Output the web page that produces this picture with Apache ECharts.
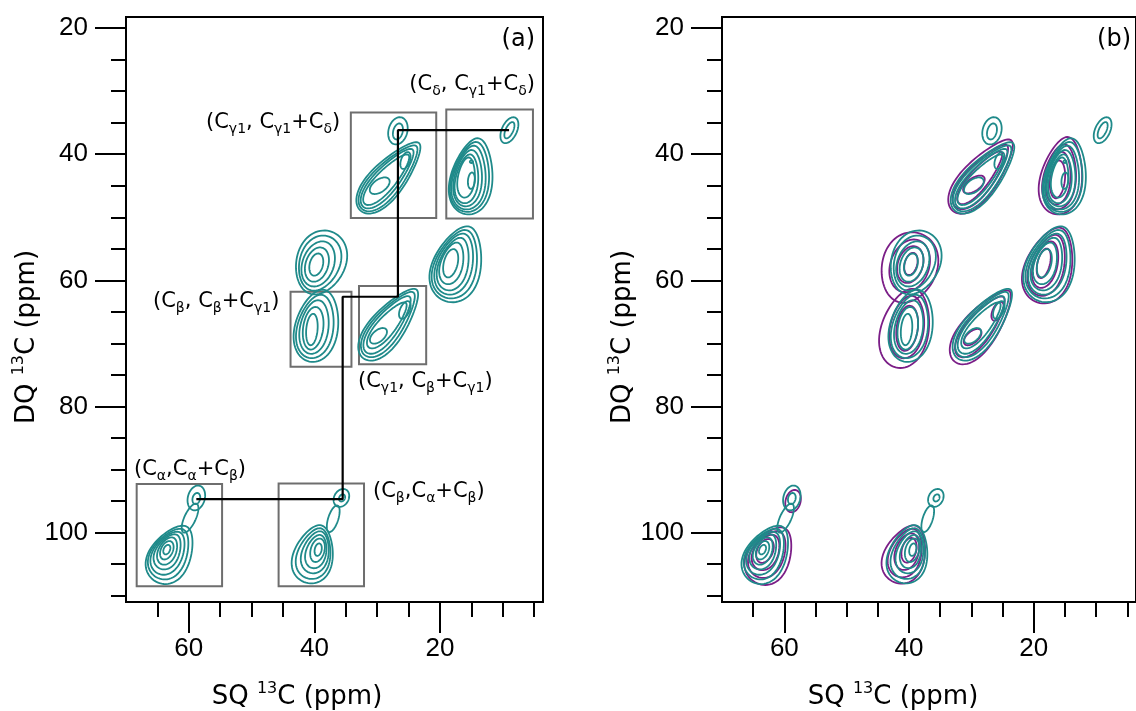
<!DOCTYPE html>
<html>
<head>
<meta charset="utf-8">
<script src="https://cdn.jsdelivr.net/npm/echarts@6/dist/echarts.min.js"></script>
<style>
  html, body { margin: 0; padding: 0; background: #fff; }
  #container { width: 1136px; height: 711px; }
</style>
</head>
<body>
<div id="container"></div>
<script>
// contour rings:
// [SQ ppm, DQ ppm, semi-axis a, semi-axis b, tilt (deg), egg (broader at the low end when < 0)]
var tealRings = [
    // (Cg1, Cg1+Cd)
    [26.7, 36.3, 2.2, 1.5, 75, 0], [26.7, 36.4, 1.3, 0.75, 75, 0],
    [28.0, 43.6, 7.1, 2.7, 49, -0.3], [28.1, 43.7, 6.6, 2.35, 49, -0.3], [28.3, 43.8, 6.0, 1.95, 49, -0.25],
    [28.5, 44.0, 5.2, 1.55, 48, -0.2], [29.6, 45.0, 1.8, 1.0, 35, 0], [25.5, 41.0, 1.4, 0.7, 70, 0],
    // (Cd, Cg1+Cd)
    [8.95, 36.2, 2.2, 1.2, 65, 0], [8.95, 36.2, 1.4, 0.6, 65, 0],
    [14.9, 43.5, 6.1, 3.3, 80, -0.25], [15.1, 43.6, 5.6, 2.95, 80, -0.25], [15.3, 43.7, 5.1, 2.6, 81, -0.25],
    [15.5, 43.8, 4.5, 2.2, 82, -0.2], [15.7, 43.9, 3.9, 1.8, 82, -0.2], [15.8, 43.7, 3.2, 1.35, 83, -0.15],
    [15.0, 44.2, 1.3, 0.55, 85, 0], [15.0, 41.2, 0.25, 0.2, 0, 0],
    // peak near (17, 57)
    [17.2, 57.4, 6.2, 3.8, 72, -0.25], [17.4, 57.4, 5.6, 3.3, 72, -0.25], [17.6, 57.4, 5.0, 2.8, 72, -0.2],
    [17.8, 57.4, 4.3, 2.3, 73, -0.2], [18.1, 57.3, 3.4, 1.75, 74, -0.15], [18.3, 57.3, 2.3, 1.1, 76, 0],
    // peak near (39, 57)
    [39.0, 57.2, 5.2, 3.9, 70, 0.1], [39.2, 57.3, 4.5, 3.2, 70, 0.1], [39.4, 57.4, 3.7, 2.5, 70, 0],
    [39.6, 57.5, 2.8, 1.8, 72, 0], [39.7, 57.5, 1.8, 1.05, 75, 0],
    // (Cb, Cb+Cg1)
    [39.6, 67.2, 5.8, 3.4, 78, -0.15], [39.8, 67.3, 5.1, 2.85, 78, -0.15], [40.0, 67.4, 4.3, 2.25, 80, -0.1],
    [40.2, 67.6, 3.4, 1.6, 82, 0], [40.4, 67.8, 2.5, 0.9, 85, 0],
    // (Cg1, Cb+Cg1)
    [28.0, 66.9, 6.9, 2.7, 52, -0.3], [28.1, 66.9, 6.3, 2.3, 52, -0.3], [28.3, 67.0, 5.6, 1.9, 52, -0.25],
    [28.4, 67.1, 4.6, 1.45, 50, -0.2], [29.8, 68.8, 1.6, 0.9, 40, 0], [25.6, 64.7, 1.5, 0.75, 65, 0],
    // (Ca, Ca+Cb)
    [62.8, 103.4, 5.0, 3.2, 60, -0.25], [63.0, 103.3, 4.35, 2.75, 60, -0.25], [63.2, 103.2, 3.7, 2.3, 60, -0.2],
    [63.3, 103.0, 3.0, 1.85, 62, -0.2], [63.4, 102.9, 2.3, 1.4, 65, -0.1], [63.5, 102.8, 1.55, 0.95, 65, 0],
    [63.5, 102.7, 0.8, 0.5, 65, 0],
    [58.8, 94.5, 2.0, 1.35, 75, 0], [58.8, 94.6, 0.9, 0.6, 75, 0], [59.8, 97.7, 2.5, 0.9, 65, 0],
    // (Cb, Ca+Cb)
    [40.1, 103.4, 4.7, 3.1, 75, -0.25], [40.0, 103.3, 4.1, 2.6, 75, -0.25], [39.8, 103.1, 3.4, 2.1, 75, -0.2],
    [39.7, 103.0, 2.7, 1.6, 75, -0.15], [39.5, 102.8, 1.9, 1.1, 75, 0], [39.4, 102.7, 1.0, 0.55, 78, 0],
    [35.7, 94.5, 1.5, 1.15, 60, 0], [35.6, 94.5, 0.6, 0.45, 60, 0], [37.0, 97.8, 2.2, 0.8, 72, 0]
];

// second spectrum, only in panel (b)
var purpleRings = [
    [28.3, 43.4, 7.3, 2.8, 50, -0.3], [28.4, 43.5, 6.4, 2.2, 50, -0.3], [28.6, 43.7, 5.3, 1.55, 50, -0.2], [29.6, 44.8, 2.0, 1.0, 35, 0],
    [15.5, 43.4, 6.2, 3.3, 80, -0.25], [15.8, 43.6, 5.2, 2.6, 81, -0.2], [16.0, 43.8, 4.2, 1.9, 82, -0.15], [16.2, 44.0, 3.0, 1.2, 84, 0],
    [17.5, 57.6, 6.2, 3.7, 72, -0.25], [17.8, 57.6, 5.0, 2.7, 72, -0.2], [18.1, 57.5, 3.8, 1.9, 74, -0.1], [18.4, 57.3, 2.4, 1.0, 76, 0],
    [40.0, 58.0, 5.7, 4.4, 72, 0.1], [39.9, 57.7, 4.3, 3.1, 70, 0], [39.8, 57.5, 3.0, 2.0, 72, 0], [39.7, 57.4, 1.8, 1.0, 75, 0],
    [40.6, 67.6, 6.4, 3.8, 76, -0.15], [40.3, 67.4, 5.0, 2.7, 80, -0.1], [40.3, 67.6, 3.6, 1.7, 82, 0],
    [28.3, 67.3, 7.1, 2.8, 52, -0.3], [28.5, 67.3, 5.9, 2.05, 52, -0.25], [29.8, 69.0, 1.7, 0.9, 40, 0], [25.8, 64.9, 1.6, 0.8, 65, 0],
    [62.3, 103.6, 4.9, 3.3, 60, -0.25], [62.6, 103.4, 4.0, 2.6, 60, -0.2], [62.9, 103.1, 3.0, 1.95, 62, -0.15], [63.1, 102.9, 2.0, 1.25, 65, 0],
    [58.6, 95.0, 1.8, 1.2, 75, 0],
    [40.6, 103.4, 4.8, 3.2, 68, -0.25], [40.5, 103.2, 4.0, 2.5, 70, -0.2], [40.3, 103.0, 3.0, 1.85, 72, -0.1], [40.0, 102.8, 2.0, 1.15, 75, 0]
];

// assignment boxes: [SQ left, DQ top, SQ right, DQ bottom]
var boxes = [
    [34.2, 33.4, 20.6, 50.1],
    [19.0, 32.9, 5.2, 50.2],
    [43.8, 61.8, 34.1, 73.7],
    [32.9, 60.9, 22.2, 73.3],
    [68.3, 92.3, 54.7, 108.5],
    [45.7, 92.2, 32.1, 108.5]
];

// connectivity walk Ca -> Cb -> Cg1 -> Cd
var walk = [[58.8, 94.7], [35.5, 94.7], [35.5, 62.6], [26.7, 62.6], [26.7, 36.2], [9.0, 36.2]];

var xMajor = [20, 40, 60];
var xMinor = [5, 10, 15, 25, 30, 35, 45, 50, 55, 65];
var yMajor = [20, 40, 60, 80, 100];
var yMinor = [25, 30, 35, 45, 50, 55, 65, 70, 75, 85, 90, 95, 105, 110];

var TEAL = '#1f8a8a';
var PURPLE = '#7b1e87';

function ringItem(color) {
    return function (params, api) {
        var cx = api.value(0), cy = api.value(1), a = api.value(2), b = api.value(3);
        var th = api.value(4) * Math.PI / 180;
        var k = api.value(5) || 0;
        var pts = [];
        for (var i = 0; i < 72; i++) {
            var t = i / 72 * Math.PI * 2;
            var bt = b * (1 + k * Math.cos(t));
            var u = a * Math.cos(t) * Math.cos(th) - bt * Math.sin(t) * Math.sin(th);
            var v = a * Math.cos(t) * Math.sin(th) + bt * Math.sin(t) * Math.cos(th);
            // right on screen = lower SQ ppm, up on screen = lower DQ ppm
            pts.push(api.coord([cx - u, cy - v]));
        }
        return {
            type: 'polygon',
            shape: { points: pts },
            style: { fill: 'none', stroke: color, lineWidth: 1.8 }
        };
    };
}

function boxItem(params, api) {
    var p1 = api.coord([api.value(0), api.value(1)]);
    var p2 = api.coord([api.value(2), api.value(3)]);
    return {
        type: 'rect',
        shape: { x: p1[0], y: p1[1], width: p2[0] - p1[0], height: p2[1] - p1[1] },
        style: { fill: 'none', stroke: '#6e6e6e', lineWidth: 2 }
    };
}

function xAxisFor(grid, ticks, len, withLabels) {
    return {
        type: 'value', gridIndex: grid, position: 'bottom',
        min: 3.6, max: 70, inverse: true,
        axisLine: { show: withLabels, lineStyle: { color: '#000', width: 2 } },
        axisTick: { show: true, customValues: ticks, length: len, lineStyle: { color: '#000', width: 2 } },
        axisLabel: {
            show: withLabels, customValues: ticks, margin: 34,
            color: '#000', fontSize: 26, fontFamily: 'Liberation Sans'
        },
        splitLine: { show: false }
    };
}

function yAxisFor(grid, ticks, len, withLabels) {
    return {
        type: 'value', gridIndex: grid, position: 'left',
        min: 18.25, max: 111, inverse: true,
        axisLine: { show: withLabels, lineStyle: { color: '#000', width: 2 } },
        axisTick: { show: true, customValues: ticks, length: len, lineStyle: { color: '#000', width: 2 } },
        axisLabel: {
            show: withLabels, customValues: ticks, margin: 38,
            color: '#000', fontSize: 26, fontFamily: 'Liberation Sans'
        },
        splitLine: { show: false }
    };
}

var subRich = {
    s: { fontSize: 14, lineHeight: 14, verticalAlign: 'bottom', fontFamily: 'DejaVu Sans', fill: '#000' }
};

function note(text, x, y, align) {
    return {
        type: 'text', x: x, y: y, silent: true,
        style: {
            text: text, align: align || 'left', verticalAlign: 'middle',
            font: '21px "DejaVu Sans"', fill: '#000', lineHeight: 27, rich: subRich
        }
    };
}

function axisTitle(text, x, y, rotate) {
    return {
        type: 'text', x: x, y: y, rotation: rotate ? Math.PI / 2 : 0, silent: true,
        style: {
            text: text, align: 'center', verticalAlign: 'middle',
            font: '26px "DejaVu Sans"', fill: '#000', lineHeight: 32,
            rich: { p: { fontSize: 16, lineHeight: 16, verticalAlign: 'top', fontFamily: 'DejaVu Sans', fill: '#000' } }
        }
    };
}

document.addEventListener('DOMContentLoaded', function () {
    var dom = document.getElementById('container');
    var myChart = echarts.init(dom, null, { renderer: 'canvas' });

    var option = {
        animation: false,
        backgroundColor: '#fff',
        grid: [
            { left: 126, top: 17, width: 417, height: 585, show: true, borderColor: '#000', borderWidth: 2, backgroundColor: 'transparent' },
            { left: 722, top: 17, width: 417, height: 585, show: true, borderColor: '#000', borderWidth: 2, backgroundColor: 'transparent' }
        ],
        xAxis: [
            xAxisFor(0, xMajor, 31, true), xAxisFor(0, xMinor, 15, false),
            xAxisFor(1, xMajor, 31, true), xAxisFor(1, xMinor, 15, false)
        ],
        yAxis: [
            yAxisFor(0, yMajor, 31, true), yAxisFor(0, yMinor, 15, false),
            yAxisFor(1, yMajor, 31, true), yAxisFor(1, yMinor, 15, false)
        ],
        series: [
            { type: 'custom', xAxisIndex: 0, yAxisIndex: 0, renderItem: boxItem, data: boxes, silent: true, clip: true, z: 1 },
            { type: 'custom', xAxisIndex: 0, yAxisIndex: 0, renderItem: ringItem(TEAL), data: tealRings, silent: true, clip: true, z: 2 },
            {
                type: 'line', xAxisIndex: 0, yAxisIndex: 0, data: walk, symbol: 'none', silent: true, z: 3,
                lineStyle: { color: '#000', width: 2.2 }
            },
            { type: 'custom', xAxisIndex: 2, yAxisIndex: 2, renderItem: ringItem(PURPLE), data: purpleRings, silent: true, clip: true, z: 1 },
            { type: 'custom', xAxisIndex: 2, yAxisIndex: 2, renderItem: ringItem(TEAL), data: tealRings, silent: true, clip: true, z: 2 }
        ],
        graphic: [
            { type: 'text', x: 535, y: 40, silent: true, style: { text: '(a)', align: 'right', verticalAlign: 'middle', font: '24px "DejaVu Sans"', fill: '#000' } },
            { type: 'text', x: 1131, y: 40, silent: true, style: { text: '(b)', align: 'right', verticalAlign: 'middle', font: '24px "DejaVu Sans"', fill: '#000' } },
            note('(C{s|δ}, C{s|γ1}+C{s|δ})', 535, 85, 'right'),
            note('(C{s|γ1}, C{s|γ1}+C{s|δ})', 206, 123),
            note('(C{s|β}, C{s|β}+C{s|γ1})', 153, 302),
            note('(C{s|γ1}, C{s|β}+C{s|γ1})', 358, 382),
            note('(C{s|α},C{s|α}+C{s|β})', 134, 470),
            note('(C{s|β},C{s|α}+C{s|β})', 373, 492),
            axisTitle('SQ {p|13}C (ppm)', 297, 697, false),
            axisTitle('DQ {p|13}C (ppm)', 27, 337, true),
            axisTitle('SQ {p|13}C (ppm)', 893, 697, false),
            axisTitle('DQ {p|13}C (ppm)', 623, 337, true)
        ]
    };

    myChart.setOption(option);
    window.addEventListener('resize', myChart.resize);
});
</script>
</body>
</html>
